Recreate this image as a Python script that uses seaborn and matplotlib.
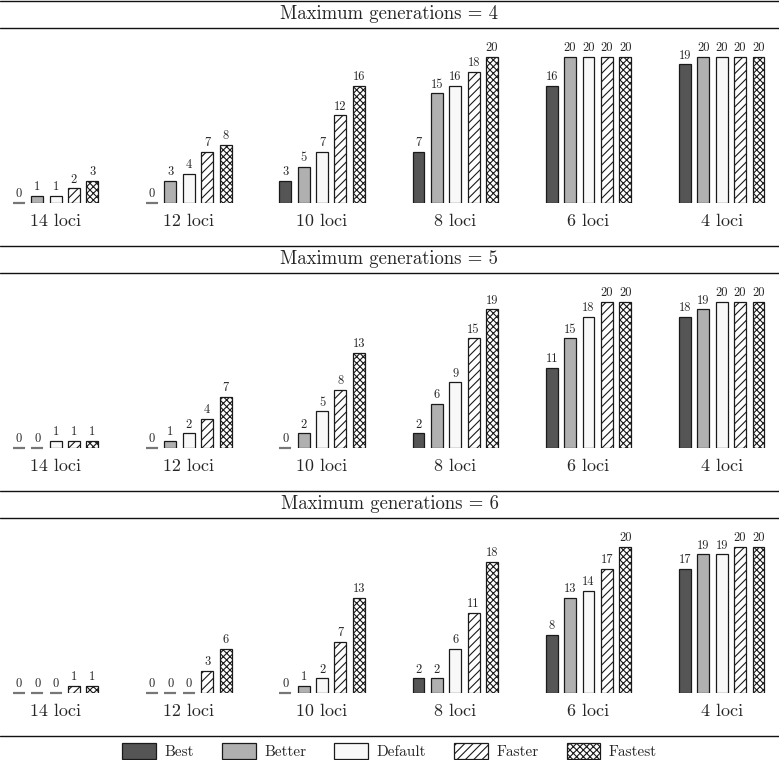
import matplotlib
matplotlib.use("Agg")
import matplotlib.pyplot as plt
from matplotlib.lines import Line2D
from matplotlib.patches import Patch
import seaborn as sns
import pandas as pd

loci = ["14 loci", "12 loci", "10 loci", "8 loci", "6 loci", "4 loci"]
settings = ["Best", "Better", "Default", "Faster", "Fastest"]
generations = [4, 5, 6]

gen4 = {
    "Best":    [0, 0, 3, 7, 16, 19],
    "Better":  [1, 3, 5, 15, 20, 20],
    "Default": [1, 4, 7, 16, 20, 20],
    "Faster":  [2, 7, 12, 18, 20, 20],
    "Fastest": [3, 8, 16, 20, 20, 20],
}
gen5 = {
    "Best":    [0, 0, 0, 2, 11, 18],
    "Better":  [0, 1, 2, 6, 15, 19],
    "Default": [1, 2, 5, 9, 18, 20],
    "Faster":  [1, 4, 8, 15, 20, 20],
    "Fastest": [1, 7, 13, 19, 20, 20],
}
gen6 = {
    "Best":    [0, 0, 0, 2, 8, 17],
    "Better":  [0, 0, 1, 2, 13, 19],
    "Default": [0, 0, 2, 6, 14, 19],
    "Faster":  [1, 3, 7, 11, 17, 20],
    "Fastest": [1, 6, 13, 18, 20, 20],
}
gen_data = [gen4, gen5, gen6]

fills = {"Best": "#555555", "Better": "#b0b0b0", "Default": "#f8f8f8",
         "Faster": "#ffffff", "Fastest": "#ffffff"}
hatches = {"Best": "", "Better": "", "Default": "", "Faster": "////", "Fastest": "xxxxx"}

sns.set_style("white")
plt.rcParams["font.family"] = ["cmr10", "DejaVu Serif"]
plt.rcParams["mathtext.fontset"] = "cm"
plt.rcParams["axes.formatter.use_mathtext"] = True
plt.rcParams["hatch.linewidth"] = 0.8

W, H = 779, 760
fig = plt.figure(figsize=(W / 100, H / 100), dpi=100)

px_per_unit = 7.3
line_kw = dict(color="#111111", lw=1.0, transform=fig.transFigure)

for r, (g, data) in enumerate(zip(generations, gen_data)):
    band_top = 1 + 245 * r
    band_bot = band_top + 26.5
    baseline = band_top + 202
    fig.add_artist(Line2D([0, 1], [1 - band_top / H] * 2, **line_kw))
    fig.add_artist(Line2D([0, 1], [1 - band_bot / H] * 2, **line_kw))
    fig.text(0.5, 1 - (band_top + band_bot) / 2 / H, f"Maximum generations = {g}",
             ha="center", va="center", fontsize=13.5)

    top = band_bot + 1
    ax = fig.add_axes([0, 1 - baseline / H, 1, (baseline - top) / H])
    rows = []
    for s in settings:
        for l, v in zip(loci, data[s]):
            rows.append({"loci": l, "setting": s, "count": v})
    df = pd.DataFrame(rows)
    sns.barplot(data=df, x="loci", y="count", hue="setting", order=loci,
                hue_order=settings, palette=fills, saturation=1,
                width=0.69, gap=0.35, edgecolor="#1a1a1a", linewidth=0.9,
                legend=False, ax=ax)
    for s, cont in zip(settings, ax.containers):
        for p in cont:
            p.set_hatch(hatches[s])
            if p.get_height() == 0:
                x0 = p.get_x()
                ax.plot([x0, x0 + p.get_width()], [0, 0], color="#777777",
                        lw=1.6, solid_capstyle="butt", clip_on=False)
        ax.bar_label(cont, fmt="%d", padding=2, fontsize=9)
    ax.set_xlim(-0.417, 5.43)
    ax.set_ylim(0, (baseline - top) / px_per_unit)
    ax.set_xlabel("")
    ax.set_ylabel("")
    ax.set_yticks([])
    ax.tick_params(axis="x", length=0, pad=7.5, labelsize=13)
    for sp in ax.spines.values():
        sp.set_visible(False)
    ax.patch.set_alpha(0)

fig.add_artist(Line2D([0, 1], [1 - 736 / H] * 2, **line_kw))

handles = [Patch(facecolor=fills[s], edgecolor="#1a1a1a", hatch=hatches[s], lw=0.9)
           for s in settings]
fig.legend(handles, settings, loc="center", bbox_to_anchor=(0.5, 1 - 751 / H),
           ncol=5, frameon=False, fontsize=11, handlelength=2.2, handleheight=1.2,
           handletextpad=0.55, columnspacing=1.85, borderpad=0, borderaxespad=0)

fig.savefig("out.png", dpi=100)
